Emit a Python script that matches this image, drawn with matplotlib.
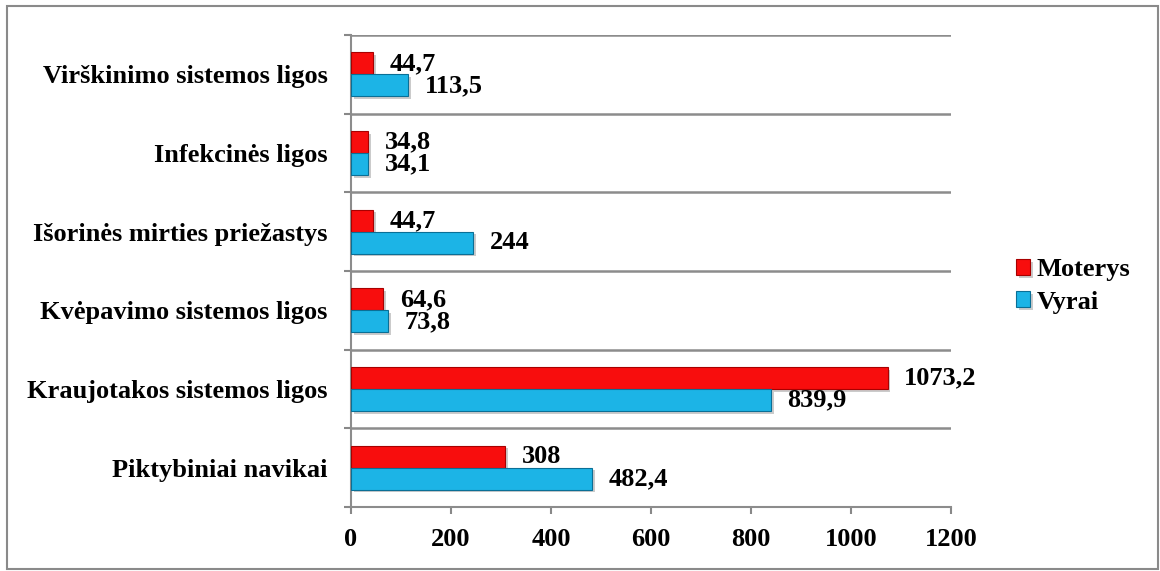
import numpy as np
import matplotlib
matplotlib.use("Agg")
import matplotlib.pyplot as plt
from matplotlib.patches import Rectangle
import matplotlib.patheffects as pe

# duomenys (nuo apačios į viršų)
kategorijos = ["Piktybiniai navikai", "Kraujotakos sistemos ligos",
               "Kvėpavimo sistemos ligos", "Išorinės mirties priežastys",
               "Infekcinės ligos", "Virškinimo sistemos ligos"]
moterys = [308, 1073.2, 64.6, 44.7, 34.8, 44.7]
vyrai = [482.4, 839.9, 73.8, 244, 34.1, 113.5]
x_ticks = [0, 200, 400, 600, 800, 1000, 1200]

plt.rcParams['font.family'] = ['Liberation Serif', 'DejaVu Serif']
plt.rcParams['font.weight'] = 'bold'

W, H = 1160, 571
fs = 19
fig = plt.figure(figsize=(W/100, H/100), dpi=100)
ax = fig.add_axes([351/W, 1-507/H, 600/W, 472/H])

y = np.arange(len(kategorijos))
h = 0.28
sesel = [pe.SimplePatchShadow(offset=(2, -2), shadow_rgbFace='#999999', alpha=0.5), pe.Normal()]
b1 = ax.barh(y + h/2, moterys, height=h, color='#f80d0d', edgecolor='#a80000', lw=0.8,
             label='Moterys', zorder=3, path_effects=sesel)
b2 = ax.barh(y - h/2, vyrai, height=h, color='#1cb4e6', edgecolor='#0a6f96', lw=0.8,
             label='Vyrai', zorder=3, path_effects=sesel)

def zyme(v):
    s = ('%.1f' % v).replace('.', ',')
    return s[:-2] if s.endswith(',0') else s

for bars, vals in ((b1, moterys), (b2, vyrai)):
    for b, v in zip(bars, vals):
        ax.annotate(zyme(v), (v, b.get_y() + b.get_height()/2), xytext=(12, 0),
                    textcoords='offset points', va='center', ha='left',
                    fontsize=fs, fontweight='bold', zorder=4)

ax.set_xlim(0, 1200)
ax.set_ylim(-0.5, len(kategorijos) - 0.5)
ax.set_xticks(x_ticks)
ax.set_xticklabels([str(t) for t in x_ticks], fontsize=fs, fontweight='bold')
ax.set_yticks(y)
ax.set_yticklabels(kategorijos, fontsize=fs, fontweight='bold')
ax.set_yticks(np.arange(len(kategorijos) + 1) - 0.5, minor=True)
ax.tick_params(axis='y', which='major', length=0, pad=17)
ax.tick_params(axis='y', which='minor', length=5, width=1.5, color='#888888', direction='out')
ax.tick_params(axis='x', length=5, width=1.5, color='#888888', pad=10)
ax.grid(axis='y', which='minor', color='#8c8c8c', lw=1.8, zorder=1)
for s in ['top', 'right']:
    ax.spines[s].set_visible(False)
for s in ['left', 'bottom']:
    ax.spines[s].set_color('#8c8c8c')
    ax.spines[s].set_linewidth(1.5)

ax.legend(loc='center left', bbox_to_anchor=(992/W, 1-286/H), bbox_transform=fig.transFigure,
          frameon=False, prop={'size': fs, 'weight': 'bold'}, handlelength=0.55,
          handleheight=0.55, handletextpad=0.25, labelspacing=0.35)

fig.patches.append(Rectangle((7/W, 1-569/H), 1151/W, 563/H, transform=fig.transFigure,
                             fill=False, edgecolor='#8a8a8a', lw=1.5))

fig.savefig('out.png', dpi=100)
